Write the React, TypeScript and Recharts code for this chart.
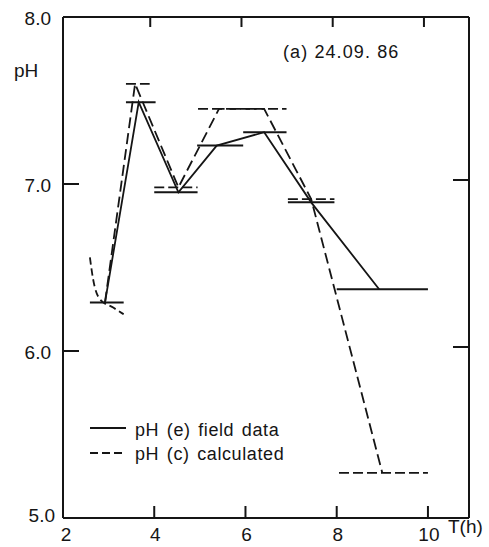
import React from 'react';
import { ComposedChart, Line, XAxis, YAxis } from 'recharts';

const tTicks = [2, 4, 6, 8, 10];
const phTicks = [5, 6, 7, 8];

// pH (e) field data: measured step values and the line through their midpoints
const fieldStart = [2.59, 3.38, 4.0, 4.94, 5.95, 6.93, 8.0];
const fieldEnd = [3.33, 4.03, 4.95, 5.95, 6.9, 7.95, 10.0];
const fieldPh = [6.29, 7.49, 6.95, 7.23, 7.31, 6.89, 6.37];
const fieldT = [2.92, 3.66, 4.53, 5.37, 6.41, 7.44, 8.93];

// pH (c) calculated
const calcStart = [3.38, 4.0, 4.96, 6.93, 8.05];
const calcEnd = [3.9, 4.95, 6.9, 7.95, 10.0];
const calcPh = [7.6, 6.98, 7.45, 6.91, 5.27];
const calcLineT = [2.92, 3.58, 4.53, 5.42, 6.41, 7.44, 9.0];
const calcLinePh = [6.29, 7.6, 6.98, 7.45, 7.45, 6.91, 5.27];
const calcCurveT = [2.59, 2.66, 2.81, 3.1, 3.33];
const calcCurvePh = [6.56, 6.43, 6.31, 6.26, 6.22];

type Row = { t: number; ph: number | null };

// horizontal segments, broken apart with null rows
const steps = (s: number[], e: number[], p: number[]): Row[] =>
  s.flatMap((x, i) => [
    { t: x, ph: p[i] },
    { t: e[i], ph: p[i] },
    { t: e[i], ph: null },
  ]);

const zipRows = (t: number[], p: number[]): Row[] => t.map((x, i) => ({ t: x, ph: p[i] }));

const fieldSteps = steps(fieldStart, fieldEnd, fieldPh);
const fieldLine = zipRows(fieldT, fieldPh);
const calcSteps = steps(calcStart, calcEnd, calcPh);
const calcLine = zipRows(calcLineT, calcLinePh);
const calcCurve = zipRows(calcCurveT, calcCurvePh);

const INK = '#151515';
const FONT = '"Liberation Sans", Arial, sans-serif';

const BottomTick = (props: any) => {
  const { x, y, payload } = props;
  const v = payload.value;
  return (
    <g>
      {v !== 2 && <line x1={x} x2={x} y1={y} y2={y - 12} stroke={INK} strokeWidth={2} />}
      <text x={x + (v === 2 ? 3 : 1)} y={y + 16} textAnchor="middle" dominantBaseline="central"
        fontFamily={FONT} fontSize={19} fill={INK}>{v}</text>
    </g>
  );
};

const TopTick = (props: any) => {
  const { x, y, payload } = props;
  if (payload.value === 2) return <g />;
  return <line x1={x - 4} x2={x - 4} y1={y} y2={y + 10} stroke={INK} strokeWidth={2} />;
};

const LeftTick = (props: any) => {
  const { x, y, payload } = props;
  const v = payload.value;
  return (
    <g>
      {v !== 5 && v !== 8 && <line x1={x} x2={x + 16} y1={y} y2={y} stroke={INK} strokeWidth={2} />}
      <text x={x - (v === 5 ? 8 : 12)} y={y + (v === 5 ? -3 : 1)} textAnchor="end" dominantBaseline="central"
        fontFamily={FONT} fontSize={19} fill={INK}>{v.toFixed(1)}</text>
    </g>
  );
};

const RightTick = (props: any) => {
  const { x, y, payload } = props;
  const v = payload.value;
  if (v === 5 || v === 8) return <g />;
  return <line x1={x} x2={x - 16} y1={y - 4} y2={y - 4} stroke={INK} strokeWidth={2} />;
};

const axisLine = { stroke: INK, strokeWidth: 2 };

const overlay: React.CSSProperties = {
  position: 'absolute',
  fontFamily: FONT,
  fontSize: 18,
  lineHeight: '18px',
  color: INK,
  whiteSpace: 'nowrap',
};

export default function App() {
  return (
    <div style={{ position: 'absolute', left: 0, top: 0, width: 489, height: 547, background: '#fff' }}>
      <ComposedChart width={489} height={547} margin={{ top: 0, right: 0, bottom: 0, left: 0 }}>
        <XAxis xAxisId="b" dataKey="t" type="number" domain={[2, 10.9]} ticks={tTicks} interval={0}
          height={29} axisLine={axisLine} tickLine={false} tickSize={0} tickMargin={0} tick={BottomTick} allowDataOverflow />
        <XAxis xAxisId="top" orientation="top" dataKey="t" type="number" domain={[2, 10.9]} ticks={tTicks} interval={0}
          height={17} axisLine={axisLine} tickLine={false} tickSize={0} tickMargin={0} tick={TopTick} allowDataOverflow />
        <YAxis yAxisId="l" type="number" domain={[5, 8]} ticks={phTicks} interval={0}
          width={63} axisLine={axisLine} tickLine={false} tickSize={0} tickMargin={0} tick={LeftTick} allowDataOverflow />
        <YAxis yAxisId="r" orientation="right" type="number" domain={[5, 8]} ticks={phTicks} interval={0}
          width={20} axisLine={axisLine} tickLine={false} tickSize={0} tickMargin={0} tick={RightTick} allowDataOverflow />

        <Line xAxisId="b" yAxisId="l" data={calcSteps} dataKey="ph" type="linear" stroke={INK} strokeWidth={1.8}
          strokeDasharray="10 4" dot={false} activeDot={false} isAnimationActive={false} />
        <Line xAxisId="b" yAxisId="l" data={calcLine} dataKey="ph" type="linear" stroke={INK} strokeWidth={1.8}
          strokeDasharray="11 5" dot={false} activeDot={false} isAnimationActive={false} />
        <Line xAxisId="b" yAxisId="l" data={calcCurve} dataKey="ph" type="monotone" stroke={INK} strokeWidth={1.8}
          strokeDasharray="7 4" dot={false} activeDot={false} isAnimationActive={false} />
        <Line xAxisId="b" yAxisId="l" data={fieldSteps} dataKey="ph" type="linear" stroke={INK} strokeWidth={2}
          dot={false} activeDot={false} isAnimationActive={false} />
        <Line xAxisId="b" yAxisId="l" data={fieldLine} dataKey="ph" type="linear" stroke={INK} strokeWidth={1.8}
          dot={false} activeDot={false} isAnimationActive={false} />
      </ComposedChart>

      <div style={{ ...overlay, left: 14, top: 62, fontSize: 19 }}>pH</div>
      <div style={{ ...overlay, left: 283, top: 43, letterSpacing: 1.1 }}>(a) 24.09. 86</div>
      <div style={{ ...overlay, left: 448, top: 518, fontSize: 19 }}>T(h)</div>

      {/* legend */}
      <svg style={{ position: 'absolute', left: 88, top: 420 }} width={44} height={40}>
        <line x1={2} x2={38} y1={8} y2={8} stroke={INK} strokeWidth={1.8} />
        <line x1={2} x2={38} y1={33} y2={33} stroke={INK} strokeWidth={1.8} strokeDasharray="8 4" />
      </svg>
      <div style={{ ...overlay, left: 135, top: 421, letterSpacing: 0.6, wordSpacing: 2 }}>pH (e) field data</div>
      <div style={{ ...overlay, left: 135, top: 445, letterSpacing: 0.6, wordSpacing: 2 }}>pH (c) calculated</div>
    </div>
  );
}
